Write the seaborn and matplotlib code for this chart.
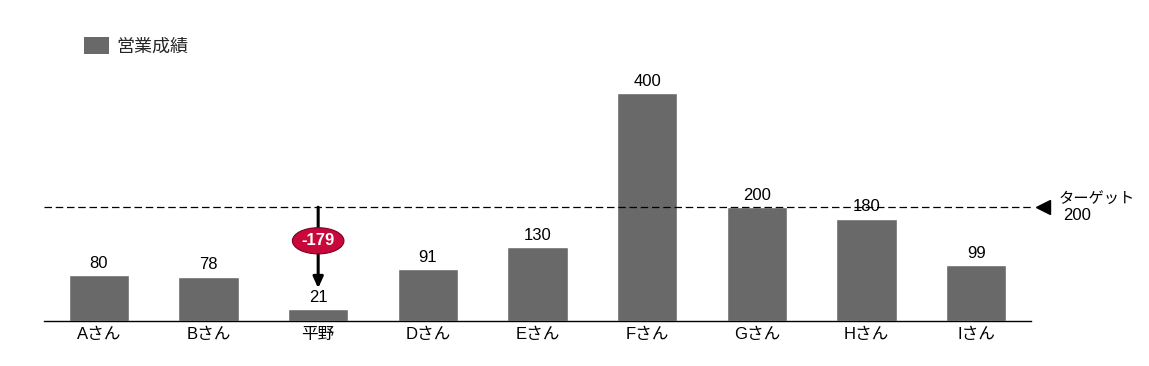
import matplotlib
matplotlib.use("Agg")
import matplotlib.pyplot as plt
from matplotlib.patches import Ellipse, Patch
import seaborn as sns
import pandas as pd

categories = ["Aさん", "Bさん", "平野", "Dさん", "Eさん", "Fさん", "Gさん", "Hさん", "Iさん"]
values = [80, 78, 21, 91, 130, 400, 200, 180, 99]
target = 200
target_label = "ターゲット"
series_name = "営業成績"
highlight = "平野"

sns.set_theme(style="white")
plt.rcParams['font.family'] = ['Liberation Sans', 'Noto Sans CJK JP', 'DejaVu Sans']

df = pd.DataFrame({"name": categories, "value": values})

fig = plt.figure(figsize=(11.49, 3.66), dpi=100)
ax = fig.add_axes([44/1149, 45/366, 987/1149, 284.5/366])

sns.barplot(data=df, x="name", y="value", color="#696969", width=0.55,
            saturation=1, ax=ax, order=categories)

ax.set_xlim(-0.5, len(categories) - 0.5)
ax.set_ylim(0, 500)
ax.set_xlabel("")
ax.set_ylabel("")
ax.set_yticks([])
ax.tick_params(axis="x", length=0, labelsize=12, pad=4, colors="black")
for s in ["top", "right", "left"]:
    ax.spines[s].set_visible(False)
ax.spines["bottom"].set_color("black")
ax.spines["bottom"].set_linewidth(1)

for i, v in enumerate(values):
    ax.annotate(str(v), xy=(i, v), xytext=(0, 3), textcoords="offset points",
                ha="center", va="bottom", fontsize=12, color="black")

# target line
ax.axhline(target, color="black", lw=0.9, ls=(0, (6, 3)))
ax.plot([8.61], [target], marker="<", color="black", markersize=10, clip_on=False)
ax.text(8.75, target + 2, target_label, fontsize=11, ha="left", va="bottom", color="black")
ax.text(8.79, target - 1, str(target), fontsize=12, ha="left", va="top", color="black")

# gap arrow
hi = categories.index(highlight)
hv = values[hi]
ax.annotate("", xy=(hi, hv), xytext=(hi, target),
            arrowprops=dict(arrowstyle="-|>,head_length=0.55,head_width=0.25", color="black",
                            lw=2.2, shrinkA=0, shrinkB=15))
gap = hv - target
ey = target - 0.33 * abs(gap)
ax.add_patch(Ellipse((hi, ey), width=0.47, height=46, facecolor="#C8073A",
                     edgecolor="#7a0020", lw=0.8, zorder=5))
ax.text(hi, ey, f"{gap}", color="white", fontsize=12, fontweight="bold",
        ha="center", va="center", zorder=6)

# legend
ax.legend(handles=[Patch(facecolor="#696969", edgecolor="none", label=series_name)],
          loc="upper left", bbox_to_anchor=(68/1149, 1 - 21/366), bbox_transform=fig.transFigure,
          frameon=False, fontsize=13, handlelength=1.35, handleheight=1.05, handletextpad=0.45)

fig.savefig("out.png", dpi=100, facecolor="white")
